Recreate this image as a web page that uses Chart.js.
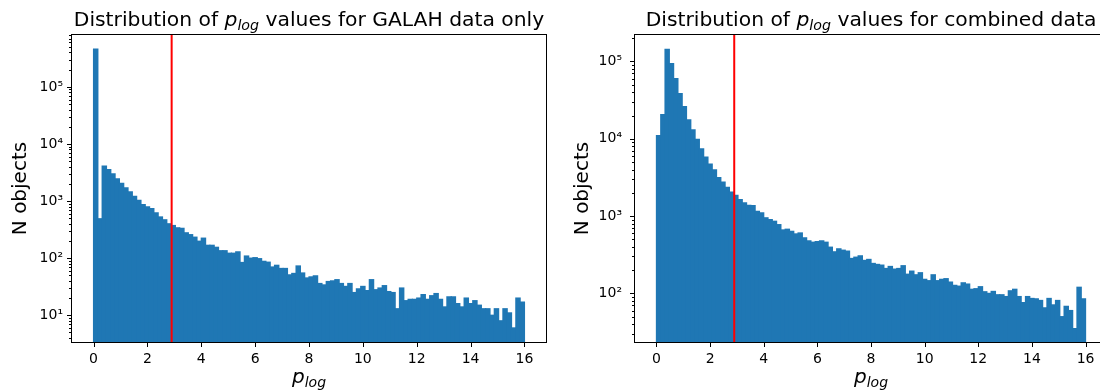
<!DOCTYPE html>
<html>
<head>
<meta charset="utf-8">
<title>p_log distributions</title>
<script src="https://cdn.jsdelivr.net/npm/chart.js@4.4.1/dist/chart.umd.min.js"></script>
<style>
  html, body { margin: 0; padding: 0; background: #fff; overflow: hidden; }
  #wrap { position: relative; width: 1100px; height: 390px; overflow: hidden; }
  canvas { position: absolute; top: 0; }
</style>
</head>
<body>
<div id="wrap">
  <canvas id="chart-galah" width="560" height="390" style="left:0"></canvas>
  <canvas id="chart-combined" width="560" height="390" style="left:560px"></canvas>
</div>
<script>
// ------------------------------------------------------------
// Data: 100 histogram bins over p_log = 0..16
// ------------------------------------------------------------
const BIN_LO = 0, BIN_HI = 16;
const THRESHOLD = 2.9;

const galahCounts = [
  460000, 490, 4080, 3550, 3000, 2460, 2040, 1700, 1450, 1210,
  1030, 870, 790, 740, 620, 527, 470, 400, 373, 340,
  333, 278, 258, 233, 198, 224, 168, 168, 155, 135,
  135, 122, 122, 129, 84, 109, 100, 102, 98, 88,
  85, 70, 75, 66, 66, 51, 54, 73, 55, 45,
  47, 49, 36, 34, 39, 40, 42, 36, 32, 36,
  25, 29, 32, 27, 42, 28, 30, 33, 26, 25,
  13, 30, 18, 19, 19, 20, 23, 19, 22, 24,
  19, 14, 21, 21, 16, 14, 20, 16, 18, 15,
  13, 13, 10, 13, 8, 13, 11, 6, 20, 17
];

const combinedCounts = [
  11000, 20500, 144000, 94000, 60000, 38500, 26000, 17600, 13000, 9800,
  7400, 5800, 4700, 3950, 3150, 2760, 2350, 2050, 1860, 1630,
  1480, 1380, 1370, 1150, 1100, 950, 900, 857, 775, 662,
  676, 635, 588, 605, 523, 478, 459, 468, 478, 459,
  396, 345, 377, 362, 352, 283, 294, 306, 267, 275,
  244, 237, 232, 210, 223, 206, 210, 228, 177, 194,
  174, 185, 152, 146, 174, 146, 152, 155, 140, 127,
  124, 137, 132, 113, 115, 122, 105, 100, 106, 96,
  96, 91, 108, 113, 91, 76, 91, 86, 85, 81,
  65, 86, 71, 81, 50, 68, 60, 35, 120, 85
];

const xTicks = [0, 2, 4, 6, 8, 10, 12, 14, 16];
const galahYTicks = [10, 100, 1000, 10000, 100000];
const combinedYTicks = [100, 1000, 10000, 100000];

const F = "'DejaVu Sans'";
const BAR_BLUE = '#1f77b4';
const SUP = { '0': '⁰', '1': '¹', '2': '²', '3': '³', '4': '⁴', '5': '⁵', '6': '⁶', '7': '⁷', '8': '⁸', '9': '⁹' };

function powLabel(v) {
  const e = Math.round(Math.log10(v));
  return '10' + String(e).split('').map(d => SUP[d]).join('');
}

// all log ticks (majors + 2..9 minors) inside the axis range
function logTicks(min, max) {
  const out = [];
  for (let d = Math.floor(Math.log10(min)); d <= Math.ceil(Math.log10(max)); d++) {
    for (let m = 1; m <= 9; m++) {
      const v = m * Math.pow(10, d);
      if (v >= min && v <= max) out.push(v);
    }
  }
  return out;
}

function histPoints(counts) {
  const w = (BIN_HI - BIN_LO) / counts.length;
  return counts.map((c, i) => ({ x: BIN_LO + (i + 0.5) * w, y: c }));
}

function drawMath(ctx, parts, cx, base) {
  let w = 0;
  parts.forEach(p => { ctx.font = p.font; w += ctx.measureText(p.t).width; });
  let x = cx - w / 2;
  ctx.textAlign = 'left';
  ctx.textBaseline = 'alphabetic';
  ctx.fillStyle = '#000';
  parts.forEach(p => {
    ctx.font = p.font;
    ctx.fillText(p.t, x, base + (p.dy || 0));
    x += ctx.measureText(p.t).width;
  });
}

// threshold line, spines, tick marks, title and x label
const axesDecor = {
  id: 'axesDecor',
  afterDatasetsDraw(chart, args, o) {
    const { ctx, chartArea: a, scales: { x, y } } = chart;
    ctx.save();
    const tx = x.getPixelForValue(o.threshold);
    ctx.strokeStyle = '#ff0000';
    ctx.lineWidth = 2;
    ctx.beginPath(); ctx.moveTo(tx, a.top); ctx.lineTo(tx, a.bottom); ctx.stroke();

    ctx.strokeStyle = '#000';
    ctx.lineWidth = 1;
    ctx.strokeRect(Math.round(a.left) - 0.5, Math.round(a.top) - 0.5,
      Math.round(a.right - a.left) + 1, Math.round(a.bottom - a.top) + 1);

    ctx.beginPath();
    xTicks.forEach(v => {
      const px = Math.round(x.getPixelForValue(v)) + 0.5;
      ctx.moveTo(px, a.bottom); ctx.lineTo(px, a.bottom + 5);
    });
    y.ticks.forEach(t => {
      const py = Math.round(y.getPixelForValue(t.value)) + 0.5;
      const len = o.majors.includes(t.value) ? 5 : 3;
      ctx.moveTo(a.left, py); ctx.lineTo(a.left - len, py);
    });
    ctx.stroke();
    ctx.restore();
  },
  afterDraw(chart, args, o) {
    const { ctx, chartArea: a } = chart;
    const cx = (a.left + a.right) / 2;
    ctx.save();
    drawMath(ctx, [
      { t: 'Distribution of ', font: '20.3px ' + F },
      { t: 'p', font: 'italic 20.3px ' + F },
      { t: 'log', font: 'italic 14.2px ' + F, dy: 3.5 },
      { t: ' values for ' + o.subject, font: '20.3px ' + F }
    ], cx, 26);
    drawMath(ctx, [
      { t: 'p', font: 'italic 20px ' + F },
      { t: 'log', font: 'italic 14px ' + F, dy: 3.5 }
    ], cx, 383);
    ctx.restore();
  }
};

function makeHist(id, counts, o) {
  const allY = logTicks(o.yMin, o.yMax);
  return new Chart(document.getElementById(id), {
    type: 'bar',
    data: {
      datasets: [{
        data: histPoints(counts),
        backgroundColor: BAR_BLUE,
        borderWidth: 0,
        barPercentage: 1,
        categoryPercentage: 1,
        inflateAmount: 0.6
      }]
    },
    options: {
      responsive: false,
      animation: false,
      devicePixelRatio: 1,
      layout: { padding: { top: 35, right: o.padRight, left: 0, bottom: 0 } },
      plugins: {
        legend: { display: false },
        tooltip: { enabled: false },
        axesDecor: { threshold: THRESHOLD, majors: o.yTicks, subject: o.subject }
      },
      scales: {
        x: {
          type: 'linear', min: -0.8, max: 16.8, offset: false,
          grid: { drawOnChartArea: false, drawTicks: false },
          border: { display: false },
          ticks: { padding: 9, maxRotation: 0, autoSkip: false, color: '#000', font: { family: F, size: 14 } },
          afterBuildTicks: s => { s.ticks = xTicks.map(v => ({ value: v })); },
          afterFit: s => { s.height = 48; }
        },
        y: {
          type: 'logarithmic', min: o.yMin, max: o.yMax,
          grid: { drawOnChartArea: false, drawTicks: false },
          border: { display: false },
          ticks: {
            padding: o.yPad, autoSkip: false, color: '#000', font: { family: F, size: 14 },
            callback: v => o.yTicks.includes(v) ? powLabel(v) : ''
          },
          title: {
            display: true, text: 'N objects', color: '#000',
            font: { family: F, size: 20 }, padding: { top: o.titlePad, bottom: 0 }
          },
          afterBuildTicks: s => { s.ticks = allY.map(v => ({ value: v })); },
          afterFit: s => { s.width = o.yWidth; }
        }
      }
    },
    plugins: [axesDecor]
  });
}

makeHist('chart-galah', galahCounts, {
  subject: 'GALAH data only', yTicks: galahYTicks,
  yMin: 3.4, yMax: 8.1e5, yWidth: 72, padRight: 14, yPad: 9, titlePad: 9
});
makeHist('chart-combined', combinedCounts, {
  subject: 'combined data', yTicks: combinedYTicks,
  yMin: 23.5, yMax: 2.2e5, yWidth: 75, padRight: 13, yPad: 13, titlePad: 11
});
</script>
</body>
</html>
